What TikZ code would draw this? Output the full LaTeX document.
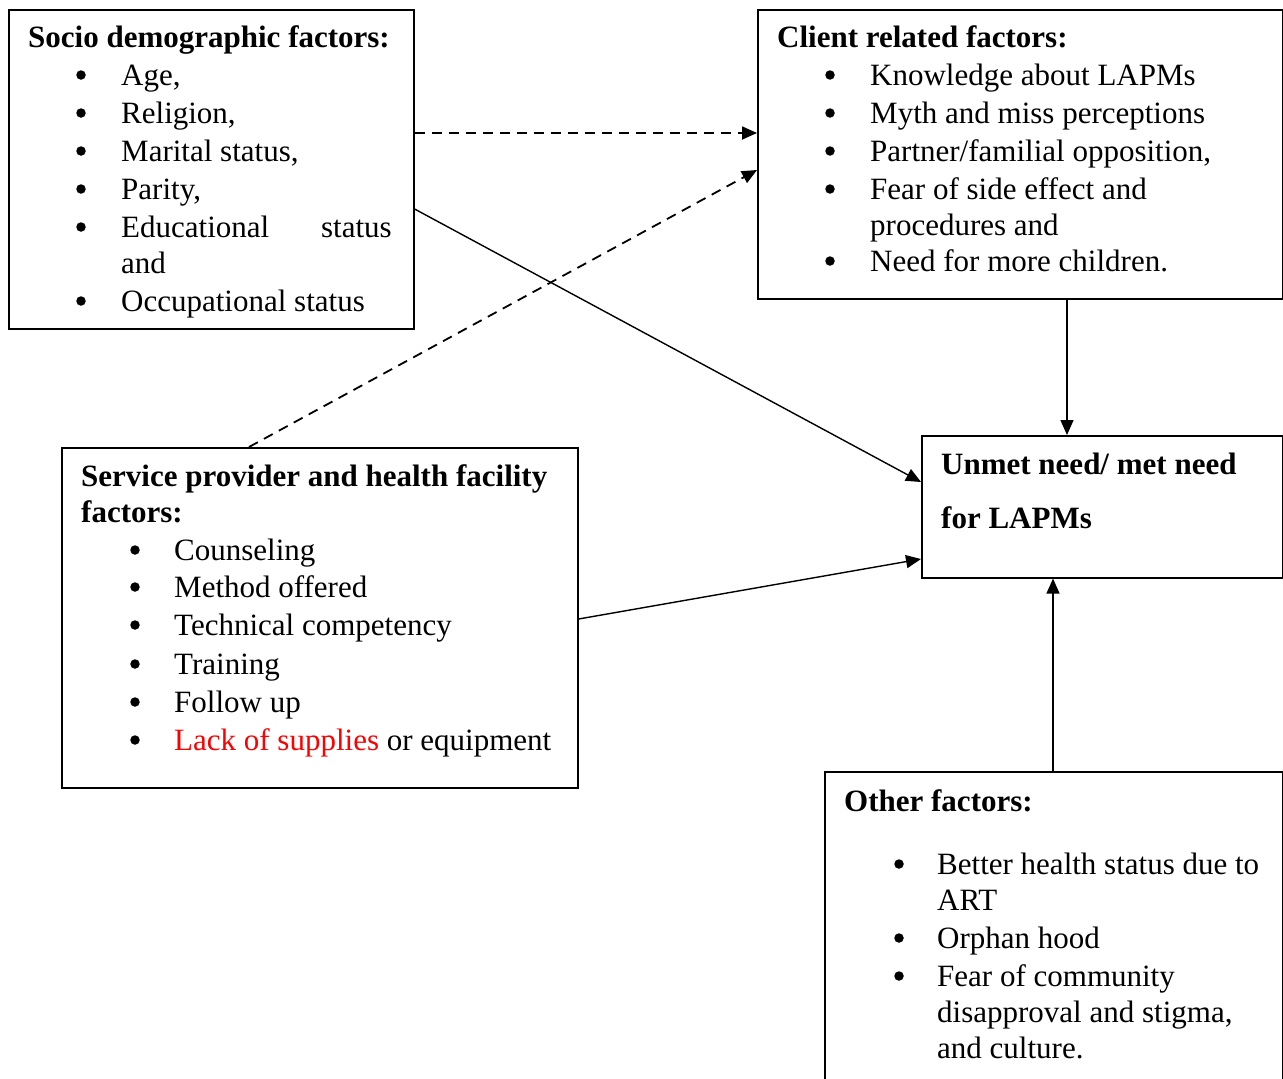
\documentclass[tikz,border=0pt]{standalone}
\usepackage{fontspec}
\setmainfont{Liberation Serif}
\usetikzlibrary{arrows.meta}
\begin{document}
\begin{tikzpicture}[x=1pt,y=-1pt,
  box/.style={draw, line width=1.6pt, inner sep=0pt, anchor=north west},
  txt/.style={anchor=base west, inner sep=0pt, font=\fontsize{31}{38}\selectfont},
  ttl/.style={txt, font=\fontsize{31}{38}\selectfont\bfseries},
  bul/.style={circle, fill, inner sep=0pt, minimum size=9.5pt, yshift=10pt},
  conn/.style={line width=1.4pt, -{Triangle[length=15pt,width=13pt]}},
  dconn/.style={conn, line width=1.8pt, dash pattern=on 10pt off 7pt}]
\useasboundingbox (0,0) rectangle (1283,1079);
\clip (0,0) rectangle (1283,1079);
% boxes
\node[box, minimum width=405pt, minimum height=319pt] (soc) at (8,9) {};
\node[box, minimum width=525pt, minimum height=289pt] (cli) at (757,9) {};
\node[box, minimum width=361pt, minimum height=142pt] (unm) at (921,435) {};
\node[box, minimum width=516pt, minimum height=340pt] (ser) at (61,447) {};
\node[box, minimum width=458pt, minimum height=330pt] (oth) at (824,771) {};
% socio text
\node[ttl] (socT) at (28,47) {Socio demographic factors:};
\foreach \y/\t [count=\i] in {85/{Age,},123/{Religion,},161/{Marital status,},199/{Parity,},237/{Educational},311/{Occupational status}}{
  \node[bul] (socB\i) at (81,\y) {};
  \node[txt] (socL\i) at (121,\y) {\t};
}
\node[txt, anchor=base east] (socS) at (392,237) {status};
\node[txt] (socA) at (121,273) {and};
% client text
\node[ttl] (cliT) at (777,47) {Client related factors:};
\foreach \y/\t [count=\i] in {85/{Knowledge about LAPMs},123/{Myth and miss perceptions},161/{Partner/familial opposition,},199/{Fear of side effect and},271/{Need for more children.}}{
  \node[bul] (cliB\i) at (830,\y) {};
  \node[txt] (cliL\i) at (870,\y) {\t};
}
\node[txt] (cliP) at (870,235) {procedures and};
% unmet text
\node[ttl] (unmT1) at (941,474) {Unmet need/ met need};
\node[ttl] (unmT2) at (941,528) {for LAPMs};
% service text
\node[ttl] (serT1) at (81,486) {Service provider and health facility};
\node[ttl] (serT2) at (81,522) {factors:};
\foreach \y/\t [count=\i] in {560/{Counseling},597/{Method offered},635/{Technical competency},674/{Training},712/{Follow up},750/{\textcolor{red}{Lack of supplies} or equipment}}{
  \node[bul] (serB\i) at (135,\y) {};
  \node[txt] (serL\i) at (174,\y) {\t};
}
% other text
\node[ttl] (othT) at (844,811) {Other factors:};
\node[bul] (othB1) at (899,874) {};
\node[txt] (othL1) at (937,874) {Better health status due to};
\node[txt] (othL1b) at (937,910) {ART};
\node[bul] (othB2) at (899,948) {};
\node[txt] (othL2) at (937,948) {Orphan hood};
\node[bul] (othB3) at (899,986) {};
\node[txt] (othL3) at (937,986) {Fear of community};
\node[txt] (othL3b) at (937,1022) {disapproval and stigma,};
\node[txt] (othL3c) at (937,1058) {and culture.};
% connectors
\draw[dconn] (soc.north east |- 0,133) -- (cli.north west |- 0,133);
\draw[dconn] (ser.north west -| 249,0) -- (cli.north west |- 0,170);
\draw[conn] (soc.north east |- 0,209) -- (unm.north west |- 0,482);
\draw[conn] (ser.north east |- 0,619) -- (unm.north west |- 0,559);
\draw[conn] (cli.south west -| 1067,0) -- (unm.north west -| 1067,0);
\draw[conn] (oth.north west -| 1053,0) -- (unm.south west -| 1053,0);
\end{tikzpicture}
\end{document}
